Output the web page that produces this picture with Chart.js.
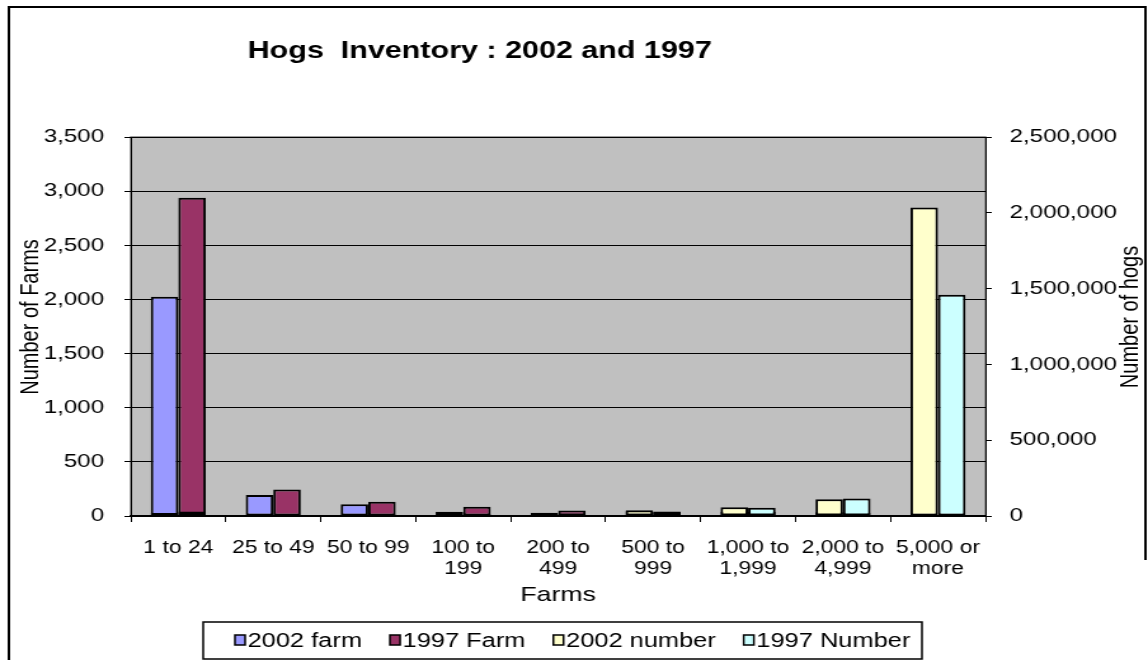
<!DOCTYPE html>
<html>
<head>
<meta charset="utf-8">
<title>Hogs Inventory</title>
<script src="https://cdn.jsdelivr.net/npm/chart.js@4.4.1/dist/chart.umd.min.js"></script>
<style>
  html, body { margin: 0; padding: 0; background: #fff; }
  #wrap { width: 1148px; height: 660px; overflow: hidden; }
</style>
</head>
<body>
<div id="wrap">
  <!-- el gráfico original está estirado a lo ancho: se dibuja estrecho y el css lo ensancha -->
  <canvas id="myChart" width="904" height="660" style="width:1148px;height:660px;"></canvas>
</div>
<script>
// Categorías (tamaño de la granja)
const farmSizes = [['1 to 24'], ['25 to 49'], ['50 to 99'], ['100 to', '199'], ['200 to', '499'],
    ['500 to', '999'], ['1,000 to', '1,999'], ['2,000 to', '4,999'], ['5,000 or', 'more']];

// Número de granjas (eje izquierdo)
const farms2002 = [2025, 195, 108, 40, 30, 45, 40, 35, 12];
const farms1997 = [2940, 245, 132, 85, 50, 35, 40, 30, 8];

// Número de cerdos (eje derecho)
const hogs2002 = [20000, 7000, 8000, 6000, 10000, 38000, 57000, 110000, 2035000];
const hogs1997 = [29000, 8500, 10000, 13000, 16000, 29000, 55000, 116000, 1460000];

// Marcas de los ejes
const farmTicks = [0, 500, 1000, 1500, 2000, 2500, 3000, 3500];
const hogTicks = [0, 500000, 1000000, 1500000, 2000000, 2500000];

Chart.defaults.font.family = '"Liberation Sans", Arial, sans-serif';
Chart.defaults.color = '#000';

// Fondo gris, marco, título, títulos de ejes y leyenda
const extras = {
    id: 'extras',
    beforeDraw(chart) {
        const { ctx, chartArea: a } = chart;
        ctx.save();
        ctx.fillStyle = '#fff';
        ctx.fillRect(0, 0, chart.width, chart.height);
        ctx.fillStyle = '#c0c0c0';
        ctx.fillRect(a.left, a.top, a.right - a.left, a.bottom - a.top);
        ctx.strokeStyle = '#808080';
        ctx.lineWidth = 1.5;
        ctx.strokeRect(a.left, a.top, a.right - a.left, a.bottom - a.top);
        // marco exterior
        ctx.strokeStyle = '#000';
        ctx.lineWidth = 2;
        ctx.beginPath();
        ctx.moveTo(7, 660);
        ctx.lineTo(7, 7);
        ctx.lineTo(902, 7);
        ctx.lineTo(902, 560);
        ctx.stroke();
        ctx.restore();
    },
    afterDraw(chart) {
        const { ctx } = chart;
        ctx.save();
        ctx.fillStyle = '#000';

        // título
        ctx.font = 'bold 24px "Liberation Sans", Arial';
        ctx.textAlign = 'left';
        ctx.textBaseline = 'alphabetic';
        ctx.fillText('Hogs  Inventory : 2002 and 1997', 195, 58);

        // títulos de los ejes verticales (ambos leen de abajo hacia arriba)
        ctx.font = '20px "Liberation Sans", Arial';
        ctx.textAlign = 'center';
        ctx.textBaseline = 'middle';
        [['Number of Farms', 24], ['Number of hogs', 890]].forEach(([txt, x]) => {
            ctx.save();
            ctx.translate(x, 317);
            ctx.rotate(-Math.PI / 2);
            ctx.fillText(txt, 0, 0);
            ctx.restore();
        });

        // leyenda
        ctx.font = '20px "Liberation Sans", Arial';
        ctx.textAlign = 'left';
        let x = 185;
        const y = 640;
        chart.data.datasets.forEach(ds => {
            ctx.fillStyle = ds.backgroundColor;
            ctx.fillRect(x, y - 5, 8, 10);
            ctx.strokeStyle = '#000';
            ctx.lineWidth = 1.5;
            ctx.strokeRect(x, y - 5, 8, 10);
            ctx.fillStyle = '#000';
            ctx.fillText(ds.label, x + 10, y + 1);
            x += 10 + ctx.measureText(ds.label).width + 22;
        });
        ctx.lineWidth = 1.5;
        ctx.strokeRect(160, 622, 566, 37);
        ctx.restore();
    }
};

const commonBar = {
    borderColor: '#000',
    borderWidth: 2,
    borderSkipped: false,
    categoryPercentage: 0.58,
    barPercentage: 1.0
};

const ctx = document.getElementById('myChart').getContext('2d');
const myChart = new Chart(ctx, {
    type: 'bar',
    data: {
        labels: farmSizes,
        datasets: [
            // 'stack' pone las barras de granjas y de cerdos del mismo año en la misma posición
            { ...commonBar, label: '2002 farm', data: farms2002, backgroundColor: '#9999ff', yAxisID: 'y', stack: 'a2002', order: 1 },
            { ...commonBar, label: '1997 Farm', data: farms1997, backgroundColor: '#993366', yAxisID: 'y', stack: 'b1997', order: 1 },
            // las barras de cerdos van encima (eje secundario, como en Excel)
            { ...commonBar, label: '2002 number', data: hogs2002, backgroundColor: '#ffffcc', yAxisID: 'y2', stack: 'a2002', order: 0 },
            { ...commonBar, label: '1997 Number', data: hogs1997, backgroundColor: '#ccffff', yAxisID: 'y2', stack: 'b1997', order: 0 }
        ]
    },
    options: {
        responsive: false,
        animation: false,
        layout: { padding: { top: 137, left: 0, right: 0, bottom: 0 } },
        plugins: {
            legend: { display: false },
            tooltip: { enabled: false }
        },
        scales: {
            x: {
                offset: true,
                grid: { offset: true, drawOnChartArea: false, tickLength: 6, tickColor: '#000', tickWidth: 1 },
                border: { color: '#000', width: 1.5 },
                ticks: { font: { size: 18 }, padding: 15, maxRotation: 0, autoSkip: false, lineHeight: 1.1 },
                title: { display: true, text: 'Farms', font: { size: 21 }, padding: { top: 0, bottom: 52 } },
                afterFit: s => { s.height = 144; }
            },
            y: {
                position: 'left',
                stacked: false,
                min: 0,
                max: 3500,
                afterBuildTicks: s => { s.ticks = farmTicks.map(v => ({ value: v })); },
                ticks: { font: { size: 19 }, padding: 16, callback: v => v.toLocaleString('en-US') },
                grid: { color: '#000', tickColor: '#000', tickLength: 5 },
                border: { color: '#000' },
                afterFit: s => { s.width = 103; }
            },
            y2: {
                position: 'right',
                stacked: false,
                min: 0,
                max: 2500000,
                afterBuildTicks: s => { s.ticks = hogTicks.map(v => ({ value: v })); },
                ticks: { font: { size: 19 }, padding: 14, callback: v => v.toLocaleString('en-US') },
                grid: { drawOnChartArea: false, tickColor: '#000', tickLength: 5 },
                border: { color: '#000' },
                afterFit: s => { s.width = 128; }
            }
        }
    },
    plugins: [extras]
});
</script>
</body>
</html>
